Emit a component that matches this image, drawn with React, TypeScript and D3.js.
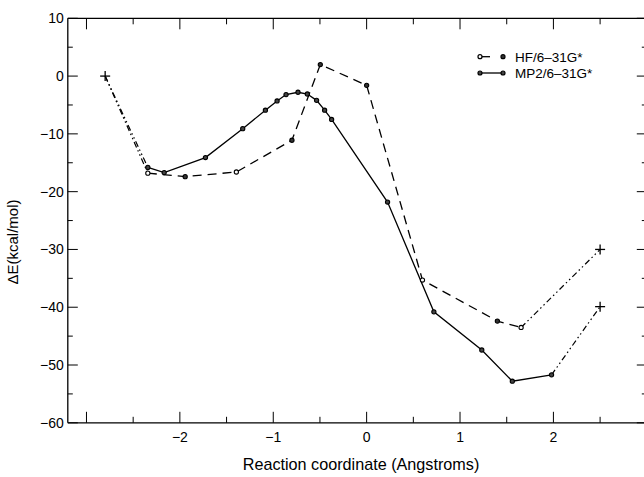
import React from "react";
import * as d3 from "d3";

const mp2X = [-2.343, -2.168, -1.726, -1.327, -1.084, -0.959, -0.863, -0.735, -0.635, -0.536, -0.45, -0.375, 0.224, 0.72, 1.233, 1.56, 1.98];
const mp2Y = [-15.8, -16.7, -14.1, -9.1, -5.9, -4.3, -3.2, -2.8, -3.1, -4.2, -5.9, -7.5, -21.8, -40.8, -47.4, -52.8, -51.7];
const hfX = [-2.343, -1.943, -1.395, -0.8, -0.496, 0.0, 0.598, 1.4, 1.654];
const hfY = [-16.8, -17.4, -16.6, -11.1, 2.0, -1.6, -35.3, -42.4, -43.5];
const hfOpen = [true, false, true, false, false, false, true, false, true];
const startPt = [-2.8, 0];
const hfEnd = [2.5, -30.0];
const mp2End = [2.5, -39.9];
const xMajor = [-3, -2, -1, 0, 1, 2, 3];
const xLabels = [-2, -1, 0, 1, 2];
const xMinor = [-2.5, -1.5, -0.5, 0.5, 1.5, 2.5];
const yMajor = [10, 0, -10, -20, -30, -40, -50, -60];
const yMinor = [5, -5, -15, -25, -35, -45, -55];
const seriesNames = ["HF/6\u201331G*", "MP2/6\u201331G*"];

const W = 644, H = 477;
const FONT = "Liberation Sans, Arial, Helvetica, sans-serif";

export default function App() {
  const x = d3.scaleLinear().domain([-3.2, 3.0]).range([67.8, 646.8]);
  const y = d3.scaleLinear().domain([-60, 10]).range([422.8, 18.3]);
  const left = x(-3.2), right = x(3.0), top = y(10), bottom = y(-60);
  const line = d3.line<number[]>().x(d => x(d[0])).y(d => y(d[1]));
  const mp2 = mp2X.map((v, i) => [v, mp2Y[i]]);
  const hf = hfX.map((v, i) => [v, hfY[i]]);
  const dd = "6,3,1.5,3,1.5,3";
  const plus = (p: number[], k: string) => (
    <g key={k} stroke="#000" strokeWidth={1.3}>
      <line x1={x(p[0]) - 5} x2={x(p[0]) + 5} y1={y(p[1])} y2={y(p[1])} />
      <line x1={x(p[0])} x2={x(p[0])} y1={y(p[1]) - 5} y2={y(p[1]) + 5} />
    </g>
  );
  return (
    <svg width={W} height={H} style={{ position: "absolute", left: 0, top: 0, background: "#fff" }} fontFamily={FONT}>
      <rect x={0} y={0} width={W} height={H} fill="#fff" />
      <g stroke="#000" strokeWidth={1.3} fill="none">
        <line x1={left} x2={right} y1={top} y2={top} />
        <line x1={left} x2={right} y1={bottom} y2={bottom} />
        <line x1={left} x2={left} y1={top} y2={bottom} />
        <line x1={right} x2={right} y1={top} y2={bottom} />
      </g>
      <g stroke="#000" strokeWidth={1}>
        {xMajor.map(v => (
          <g key={"xM" + v}>
            <line x1={x(v)} x2={x(v)} y1={bottom} y2={bottom - 11} />
            <line x1={x(v)} x2={x(v)} y1={top} y2={top + 11} />
          </g>
        ))}
        {xMinor.map(v => (
          <g key={"xm" + v}>
            <line x1={x(v)} x2={x(v)} y1={bottom} y2={bottom - 6} />
            <line x1={x(v)} x2={x(v)} y1={top} y2={top + 6} />
          </g>
        ))}
        {yMajor.map(v => (
          <g key={"yM" + v}>
            <line x1={left} x2={left + 10} y1={y(v)} y2={y(v)} />
            <line x1={right} x2={right - 10} y1={y(v)} y2={y(v)} />
          </g>
        ))}
        {yMinor.map(v => (
          <g key={"ym" + v}>
            <line x1={left} x2={left + 5} y1={y(v)} y2={y(v)} />
            <line x1={right} x2={right - 5} y1={y(v)} y2={y(v)} />
          </g>
        ))}
      </g>
      <g fontSize={14} fill="#000">
        {xLabels.map(v => (
          <text key={"xl" + v} x={x(v)} y={bottom + 19} textAnchor="middle">
            {v < 0 ? "\u2212" + Math.abs(v) : String(v)}
          </text>
        ))}
        {yMajor.map(v => (
          <text key={"yl" + v} x={left - 4} y={y(v) + 5} textAnchor="end">
            {v < 0 ? "\u2212" + Math.abs(v) : String(v)}
          </text>
        ))}
      </g>
      <text x={361} y={470} textAnchor="middle" fontSize={16.2}>Reaction coordinate (Angstroms)</text>
      <text transform={`translate(18,242) rotate(-90)`} textAnchor="middle" fontSize={15}>{"\u0394E(kcal/mol)"}</text>
      <g fill="none" stroke="#000" strokeWidth={1.2} strokeDasharray={dd}>
        <path d={line([startPt, mp2[0]]) as string} />
        <path d={line([startPt, hf[0]]) as string} />
        <path d={line([mp2[mp2.length - 1], mp2End]) as string} />
        <path d={line([hf[hf.length - 1], hfEnd]) as string} />
      </g>
      <path d={line(hf) as string} fill="none" stroke="#000" strokeWidth={1.3} strokeDasharray="9,6" />
      <path d={line(mp2) as string} fill="none" stroke="#000" strokeWidth={1.3} />
      {hf.map((p, i) => (
        <circle key={"hp" + i} cx={x(p[0])} cy={y(p[1])} r={2.1} fill={hfOpen[i] ? "#fff" : "#333"} stroke="#000" strokeWidth={1.1} />
      ))}
      {mp2.map((p, i) => (
        <circle key={"mp" + i} cx={x(p[0])} cy={y(p[1])} r={2.1} fill="#444" stroke="#000" strokeWidth={1.1} />
      ))}
      {plus(startPt, "s")}
      {plus(hfEnd, "he")}
      {plus(mp2End, "me")}
      <g>
        <line x1={480} x2={490} y1={56.7} y2={56.7} stroke="#000" strokeWidth={1.3} />
        <circle cx={480} cy={56.7} r={2} fill="#fff" stroke="#000" strokeWidth={1.2} />
        <circle cx={503} cy={56.7} r={2} fill="#333" stroke="#000" strokeWidth={1.2} />
        <text x={515} y={61.5} fontSize={13.5}>{seriesNames[0]}</text>
        <line x1={480} x2={503} y1={73} y2={73} stroke="#000" strokeWidth={1.3} />
        <circle cx={480} cy={73} r={2} fill="#444" stroke="#000" strokeWidth={1.2} />
        <circle cx={503} cy={73} r={2} fill="#444" stroke="#000" strokeWidth={1.2} />
        <text x={515} y={78} fontSize={13.5}>{seriesNames[1]}</text>
      </g>
    </svg>
  );
}
